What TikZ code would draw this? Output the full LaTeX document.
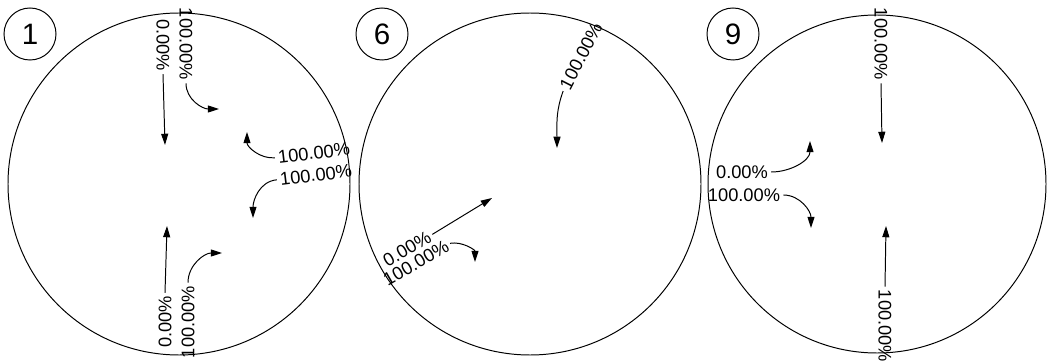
\documentclass[tikz,border=0pt]{standalone}
\usepackage{fontspec}
\setmainfont{Liberation Sans}
\usetikzlibrary{arrows.meta}
\begin{document}
\begin{tikzpicture}[x=0.025cm,y=0.025cm,line width=0.7pt,
  lbl/.style={font=\fontsize{13}{15}\selectfont,inner sep=2pt},
  num/.style={circle,draw,minimum size=1.3cm,inner sep=0pt,font=\fontsize{21}{24}\selectfont},
  arr/.style={-{Triangle[length=8pt,width=5pt]}}]
\useasboundingbox (0,0) rectangle (1047,363);
% the three wheels
\draw (179,179) circle (171);
\draw (530,179) circle (171);
\draw (877,179) circle (169);
\node[num] (n1) at (30,329) {1};
\node[num] (n6) at (382,329) {6};
\node[num] (n9) at (733,329) {9};
% wheel 1
\node[lbl,rotate=-90] (a) at (163,318) {0.00\%};
\node[lbl,rotate=-90] (b) at (186,319) {100.00\%};
\node[lbl,rotate=7] (c) at (314,210) {100.00\%};
\node[lbl,rotate=7] (d) at (316,188) {100.00\%};
\node[lbl,rotate=90] (e) at (165,41) {0.00\%};
\node[lbl,rotate=90] (f) at (188,41) {100.00\%};
\coordinate (a1) at (165,218);
\coordinate (b1) at (219,254);
\coordinate (c1) at (247,231);
\coordinate (d1) at (253,145);
\coordinate (e1) at (167,137);
\coordinate (f1) at (222,110);
\draw[arr] (a.east) -- (a1);
\draw[arr] (b.east) to[out=-90,in=180] (b1);
\draw[arr] (c.west) to[out=185,in=-90] (c1);
\draw[arr] (d.west) to[out=185,in=90] (d1);
\draw[arr] (e.east) -- (e1);
\draw[arr] (f.east) to[out=90,in=180] (f1);
% wheel 6
\node[lbl,rotate=63] (g) at (581,307) {100.00\%};
\node[lbl,rotate=30] (h) at (407,114) {0.00\%};
\node[lbl,rotate=30] (i) at (416,100) {100.00\%};
\coordinate (g1) at (557,215);
\coordinate (h1) at (492,165);
\coordinate (i1) at (475,101);
\draw[arr] (g.west) to[out=250,in=90] (g1);
\draw[arr] (h.east) -- (h1);
\draw[arr] (i.east) to[out=10,in=90] (i1);
% wheel 9
\node[lbl,rotate=-90] (j) at (881,319) {100.00\%};
\node[lbl] (k) at (742,191) {0.00\%};
\node[lbl] (l) at (744,168) {100.00\%};
\node[lbl,rotate=-90] (m) at (885,37) {100.00\%};
\coordinate (j1) at (882,220);
\coordinate (k1) at (810,222);
\coordinate (l1) at (811,135);
\coordinate (m1) at (886,137);
\draw[arr] (j.east) -- (j1);
\draw[arr] (k.east) to[out=0,in=-90] (k1);
\draw[arr] (l.east) to[out=0,in=90] (l1);
\draw[arr] (m.west) -- (m1);
\end{tikzpicture}
\end{document}
